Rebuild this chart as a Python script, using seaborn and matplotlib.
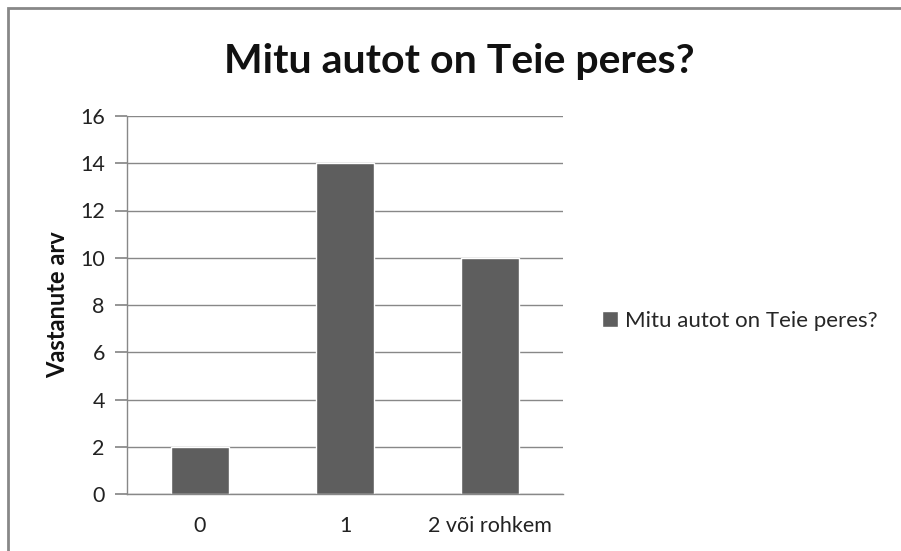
import matplotlib
matplotlib.use("Agg")
import matplotlib.pyplot as plt
import seaborn as sns
import pandas as pd
from matplotlib.patches import Rectangle

# --- données ---
categories = ["0", "1", "2 või rohkem"]
vastanute_arv = [2, 14, 10]
series_name = "Mitu autot on Teie peres?"
y_ticks = [0, 2, 4, 6, 8, 10, 12, 14, 16]

df = pd.DataFrame({"kategooria": categories, "arv": vastanute_arv, "seeria": series_name})

sns.set_theme(style="white")
plt.rcParams["font.family"] = ["Lato", "DejaVu Sans"]

BAR = "#5e5e5e"
GRID = "#888888"

fig = plt.figure(figsize=(9.01, 5.51), dpi=100)
W, H = 901, 551
ax = fig.add_axes([127 / W, 1 - 494 / H, (563 - 127) / W, (494 - 116) / H])

sns.barplot(data=df, x="kategooria", y="arv", hue="seeria", palette=[BAR],
            width=0.4, ax=ax, saturation=1)

ax.set_ylim(0, 16)
ax.set_yticks(y_ticks)
ax.set_xlim(-0.5, 2.5)
ax.yaxis.grid(True, color=GRID, linewidth=1)
ax.set_axisbelow(True)
for s in ["top", "right"]:
    ax.spines[s].set_visible(False)
for s in ["left", "bottom"]:
    ax.spines[s].set_color(GRID)
    ax.spines[s].set_linewidth(1)
ax.tick_params(axis="y", which="both", left=True, length=9, color=GRID,
               labelsize=15.5, pad=7, labelcolor="#222222")
ax.tick_params(axis="x", bottom=False, labelsize=15.5, pad=10, labelcolor="#222222")
ax.set_xlabel("")
ax.set_ylabel("Vastanute arv", fontsize=17, fontweight="bold", labelpad=8, color="#111111")

fig.text(459 / W, 1 - 62 / H, "Mitu autot on Teie peres?", ha="center", va="center",
         fontsize=29.5, fontweight="bold", color="#111111")

leg = ax.legend(loc="center left", bbox_to_anchor=(582 / W, 1 - 321 / H),
                bbox_transform=fig.transFigure, frameon=False, fontsize=16,
                handlelength=0.7, handleheight=0.7, handletextpad=0.35)

# cadre extérieur
fig.patches.append(Rectangle((8 / W, -0.1), 1.1, 1 - 8 / H + 0.1, transform=fig.transFigure,
                             fill=False, edgecolor="#888888", linewidth=2))

fig.savefig("out.png", dpi=100)
